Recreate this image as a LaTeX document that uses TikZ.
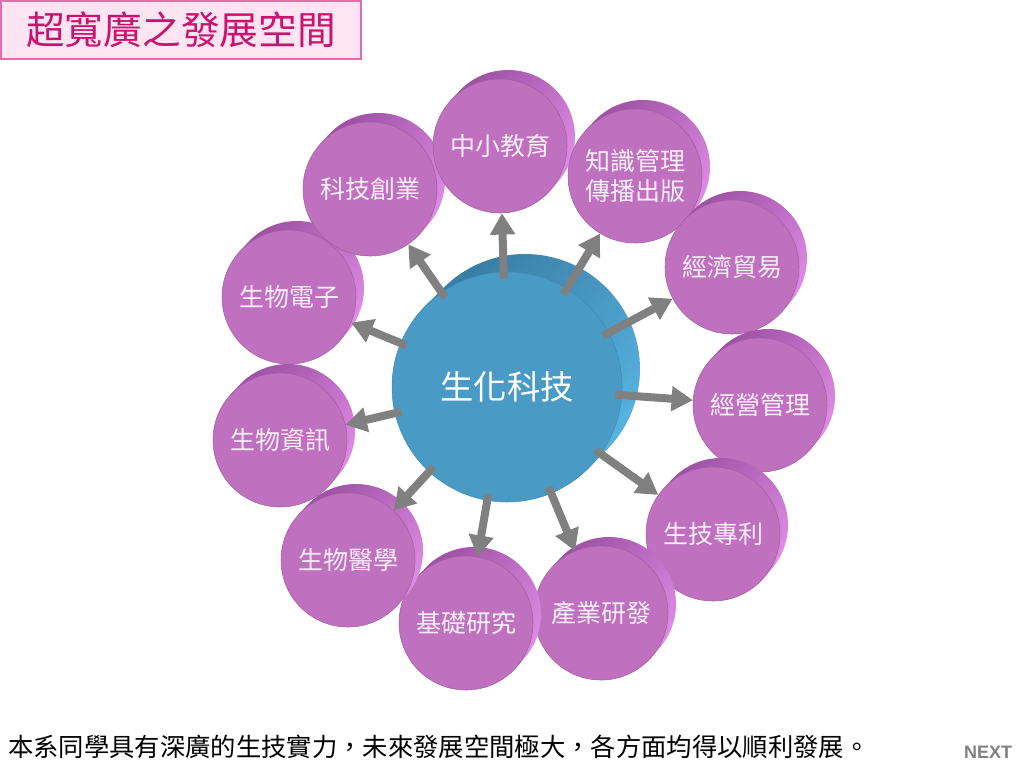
\documentclass[tikz,border=0pt]{standalone}
\usepackage{fontspec}
\setmainfont{Liberation Sans}
\newfontfamily\cjk{Noto Sans CJK TC}
\usetikzlibrary{arrows.meta,calc}
\definecolor{petalface}{RGB}{191,112,191}
\definecolor{petalrimd}{RGB}{158,82,164}
\definecolor{petalriml}{RGB}{224,140,230}
\definecolor{hubface}{RGB}{73,155,198}
\definecolor{hubrimd}{RGB}{56,126,166}
\definecolor{hubriml}{RGB}{88,178,224}
\definecolor{arrowgray}{RGB}{128,128,128}
\definecolor{titlepink}{RGB}{200,20,110}
\definecolor{titlefill}{RGB}{255,228,242}
\definecolor{titleline}{RGB}{228,110,168}
\definecolor{petaltext}{RGB}{252,238,252}
\newcommand{\cylrim}[6]{\path[#6] ($#1+(#5:#2)$) -- ++(#3,#4) arc[start angle=#5, end angle=#5-180, radius=#2] -- ($#1+(#5-180:#2)$) -- cycle;}
\newcommand{\petalat}[3]{\cylrim{#2}{67}{8}{-9}{41.6}{petalrim}\node[petal] (#1) at #2 {#3};}
\tikzset{
  petal/.style={circle, minimum size=100.5pt, inner sep=0pt, fill=petalface, draw=petalface!85!black, line width=0.4pt, text=petaltext, font=\cjk\fontsize{18.75}{22.5}\selectfont, align=center},
  hub/.style={circle, minimum size=172.5pt, inner sep=0pt, fill=hubface, draw=hubface!90!black, line width=0.4pt, text=white, font=\cjk\fontsize{25}{30}\selectfont},
  petalrim/.style={top color=petalrimd, bottom color=petalriml, shading angle=45},
  hubrim/.style={top color=hubrimd, bottom color=hubriml, shading angle=45},
  link/.style={draw=arrowgray, line width=6pt, -{Triangle[width=18pt,length=16pt]}, shorten <=-5pt},
  titlebox/.style={draw=titleline, fill=titlefill, line width=1pt, minimum width=270pt, minimum height=43.5pt, inner sep=0pt, text=titlepink, font=\cjk\fontsize{29}{34}\selectfont},
}
\begin{document}
\begin{tikzpicture}[x=0.75pt,y=-0.75pt]
\useasboundingbox[fill=white] (0,0) rectangle (1024,768);
\node[titlebox] (title) at (181,30) {超寬廣之發展空間};
% hub
\cylrim{(507,387)}{115}{18}{-18}{45}{hubrim}
\node[hub] (hub) at (507,387) {生化科技};
% petals
\petalat{p10}{(289,297)}{生物電子}
\petalat{p11}{(370,189)}{科技創業}
\petalat{p1}{(500,146)}{中小教育}
\petalat{p2}{(635,176)}{知識管理\\傳播出版}
\petalat{p3}{(732,267)}{經濟貿易}
\petalat{p4}{(760,405)}{經營管理}
\petalat{p5}{(713,534)}{生技專利}
\petalat{p6}{(601,613)}{產業研發}
\petalat{p7}{(466,623)}{基礎研究}
\petalat{p8}{(348,560)}{生物醫學}
\petalat{p9}{(280,440)}{生物資訊}
% arrows
\foreach \p in {p1,p2,p3,p4,p5,p6,p7,p8,p9,p10,p11}
  \draw[link] (hub) -- (\p);
% bottom
\node[anchor=west, inner sep=0pt, font=\cjk\fontsize{19}{23}\selectfont] (note) at (8,747) {本系同學具有深廣的生技實力，未來發展空間極大，各方面均得以順利發展。};
\node[font=\fontsize{13.5}{16}\selectfont\bfseries, text=arrowgray, inner sep=0pt] (next) at (988,752) {NEXT};
\end{tikzpicture}
\end{document}
